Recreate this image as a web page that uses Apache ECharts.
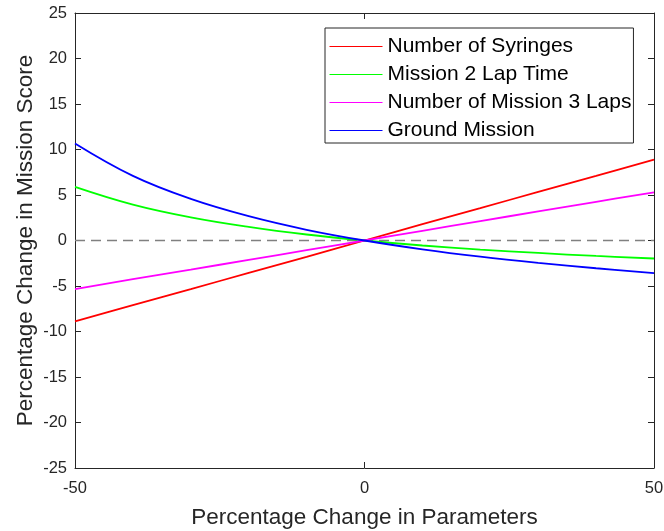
<!DOCTYPE html>
<html>
<head>
<meta charset="utf-8">
<script src="https://cdn.jsdelivr.net/npm/echarts@6/dist/echarts.min.js"></script>
<style>
  html, body { margin: 0; padding: 0; background: #fff; }
  #chart { width: 664px; height: 531px; }
</style>
</head>
<body>
<div id="chart"></div>
<script>
// percentage change in parameters (x)
var paramChange = [-50, -40, -30, -20, -10, 0, 10, 20, 30, 40, 50];

// percentage change in mission score
var syringes = [-8.9, -7.1, -5.35, -3.55, -1.8, 0, 1.8, 3.55, 5.35, 7.1, 8.9];
var lapTime = [5.9, 3.95, 2.55, 1.5, 0.66, 0, -0.55, -1.0, -1.37, -1.7, -1.98];
var m3Laps = [-5.35, -4.25, -3.2, -2.13, -1.07, 0, 1.07, 2.13, 3.2, 4.25, 5.3];
var ground = [10.66, 7.1, 4.57, 2.67, 1.18, 0, -0.97, -1.78, -2.46, -3.05, -3.58];

var seriesNames = ['Number of Syringes', 'Mission 2 Lap Time', 'Number of Mission 3 Laps', 'Ground Mission'];
var seriesColors = ['#ff0000', '#00ff00', '#ff00ff', '#0000ff'];
var seriesData = [syringes, lapTime, m3Laps, ground];

var zeroLine = [[-50, 0], [50, 0]];

function pairs(ys) {
  return paramChange.map(function (x, i) { return [x, ys[i]]; });
}

var axisColor = '#262626';
var font = 'Liberation Sans, Arial, sans-serif';

var mychart = echarts.init(document.getElementById('chart'));

var series = [{
  name: 'zero',
  type: 'line',
  data: zeroLine,
  symbol: 'none',
  silent: true,
  lineStyle: { color: '#808080', width: 1.5, type: [10, 6] },
  z: 1
}];
seriesNames.forEach(function (name, i) {
  series.push({
    name: name,
    type: 'line',
    data: pairs(seriesData[i]),
    symbol: 'none',
    smooth: 0.4,
    lineStyle: { color: seriesColors[i], width: 1.8 },
    itemStyle: { color: seriesColors[i] },
    z: 2
  });
});

var option = {
  backgroundColor: '#fff',
  animation: false,
  grid: { left: 75, right: 10, top: 13, bottom: 63, show: false, outerBoundsMode: 'none', containLabel: false },
  legend: {
    data: seriesNames,
    orient: 'vertical',
    left: 325,
    top: 28,
    padding: [8, 2, 2, 4],
    itemWidth: 53,
    itemHeight: 14,
    itemGap: 7,
    backgroundColor: '#fff',
    borderColor: axisColor,
    borderWidth: 1,
    lineStyle: { width: 1 },
    itemStyle: { opacity: 0 },
    textStyle: { fontFamily: font, fontSize: 21, color: '#000', lineHeight: 21 }
  },
  xAxis: [{
    type: 'value',
    min: -50, max: 50, interval: 50,
    name: 'Percentage Change in Parameters',
    nameLocation: 'middle',
    nameGap: 38,
    nameMoveOverlap: false,
    nameTextStyle: { fontFamily: font, fontSize: 22.5, color: axisColor },
    axisLine: { show: true, onZero: false, lineStyle: { color: axisColor, width: 1 } },
    axisTick: { show: true, inside: true, length: 6, lineStyle: { color: axisColor } },
    axisLabel: { fontFamily: font, fontSize: 16.5, color: axisColor, margin: 12 },
    splitLine: { show: false }
  }, {
    type: 'value', position: 'top',
    min: -50, max: 50, interval: 50,
    axisLine: { show: true, onZero: false, lineStyle: { color: axisColor, width: 1 } },
    axisTick: { show: true, inside: true, length: 6, lineStyle: { color: axisColor } },
    axisLabel: { show: false },
    splitLine: { show: false }
  }],
  yAxis: [{
    type: 'value',
    min: -25, max: 25, interval: 5,
    name: 'Percentage Change in Mission Score',
    nameLocation: 'middle',
    nameGap: 38,
    nameMoveOverlap: false,
    nameTextStyle: { fontFamily: font, fontSize: 22.5, color: axisColor },
    axisLine: { show: true, onZero: false, lineStyle: { color: axisColor, width: 1 } },
    axisTick: { show: true, inside: true, length: 6, lineStyle: { color: axisColor } },
    axisLabel: { fontFamily: font, fontSize: 16.5, color: axisColor, margin: 8 },
    splitLine: { show: false }
  }, {
    type: 'value', position: 'right',
    min: -25, max: 25, interval: 5,
    axisLine: { show: true, onZero: false, lineStyle: { color: axisColor, width: 1 } },
    axisTick: { show: true, inside: true, length: 6, lineStyle: { color: axisColor } },
    axisLabel: { show: false },
    splitLine: { show: false }
  }],
  series: series
};

mychart.setOption(option);
</script>
</body>
</html>
